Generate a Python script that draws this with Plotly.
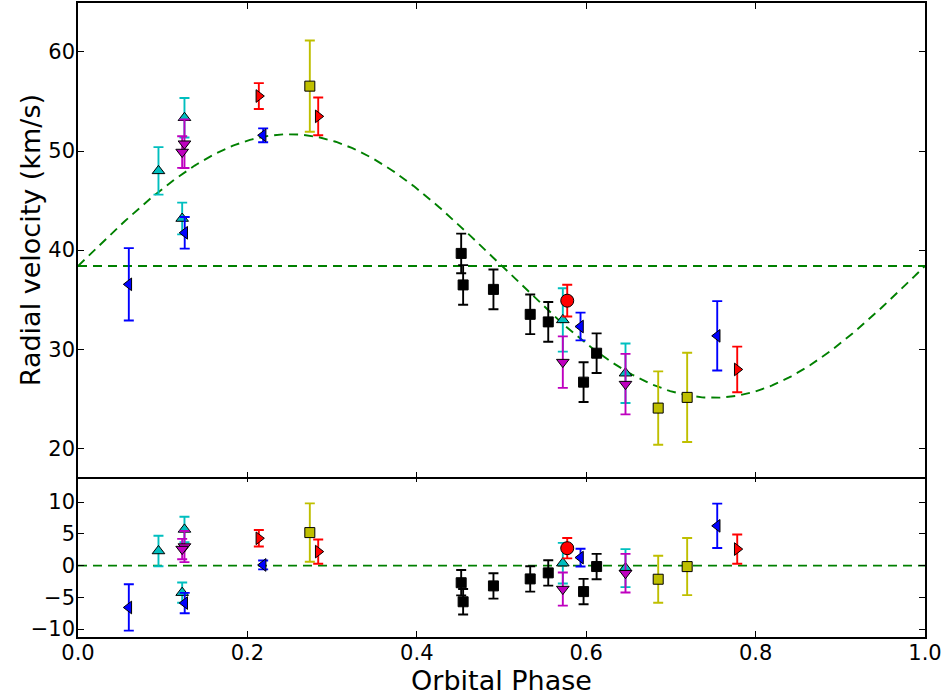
import numpy as np
import plotly.graph_objects as go

# ---- Data ----
# Orbital model parameters (systemic velocity and semi-amplitude)
GAMMA = 38.4
K_AMP = 13.3

# Black squares
blk_phase = [0.4524, 0.4547, 0.4905, 0.5339, 0.5552, 0.5969, 0.6123]
blk_rv    = [39.67, 36.49, 36.04, 33.52, 32.76, 26.68, 29.60]
blk_err   = [2.0, 2.0, 2.0, 2.0, 2.0, 2.0, 2.0]
blk_res   = [-2.7, -5.7, -3.2, -2.1, -1.15, -4.1, -0.15]

# Yellow squares
yel_phase = [0.2737, 0.6850, 0.7192]
yel_rv    = [56.55, 24.06, 25.14]
yel_err   = [4.6, 3.7, 4.5]
yel_res   = [5.2, -2.15, -0.16]

# Cyan up-triangles
cyn_phase = [0.0950, 0.1257, 0.1230, 0.5724, 0.6464]
cyn_rv    = [48.0, 53.36, 43.19, 32.96, 27.58]
cyn_err   = [2.4, 2.0, 1.6, 3.2, 3.0]
cyn_res   = [2.3, 5.7, -4.26, 0.38, -0.4]

# Magenta down-triangles
mag_phase = [0.1257, 0.1230, 0.5724, 0.6464]
mag_rv    = [50.74, 49.90, 28.70, 26.48]
mag_err   = [2.45, 1.6, 2.6, 3.05]
mag_res   = [3.0, 2.6, -3.7, -1.2]

# Blue left-triangles
blu_phase = [0.0600, 0.1260, 0.2186, 0.5933, 0.7547]
blu_rv    = [36.55, 41.75, 51.59, 32.29, 31.35]
blu_err   = [3.65, 1.6, 0.7, 1.4, 3.5]
blu_res   = [-6.6, -5.9, 0.1, 1.26, 6.26]

# Red right-triangles
red_phase = [0.2135, 0.2836, 0.7783]
red_rv    = [55.55, 53.50, 27.96]
red_err   = [1.3, 1.9, 2.3]
red_res   = [4.3, 2.2, 2.6]

# Red circle
cir_phase = [0.5776]
cir_rv    = [34.9]
cir_err   = [1.6]
cir_res   = [2.74]

# ---- Figure ----
FONT = "DejaVu Sans"
fig = go.Figure()

model_phase = np.linspace(0.0, 1.0, 400)
model_rv = GAMMA + K_AMP * np.sin(2 * np.pi * model_phase)

GREEN = "#008000"
DASH = "9px,6px"
LW = 1.9

# Model curve and systemic velocity (top)
fig.add_trace(go.Scatter(x=model_phase, y=model_rv, mode="lines",
                         line=dict(color=GREEN, width=LW, dash=DASH),
                         xaxis="x2", yaxis="y2", showlegend=False, hoverinfo="skip"))
fig.add_trace(go.Scatter(x=[0.0, 1.0], y=[GAMMA, GAMMA], mode="lines",
                         line=dict(color=GREEN, width=LW, dash=DASH),
                         xaxis="x2", yaxis="y2", showlegend=False, hoverinfo="skip"))
# Zero line (residuals)
fig.add_trace(go.Scatter(x=[0.0, 1.0], y=[0, 0], mode="lines",
                         line=dict(color=GREEN, width=LW, dash=DASH),
                         xaxis="x", yaxis="y", showlegend=False, hoverinfo="skip"))

series = [
    (blk_phase, blk_rv, blk_err, blk_res, "#000000", "square", 10),
    (yel_phase, yel_rv, yel_err, yel_res, "#bfbf00", "square", 10),
    (cyn_phase, cyn_rv, cyn_err, cyn_res, "#00bfbf", "triangle-up", 11),
    (mag_phase, mag_rv, mag_err, mag_res, "#bf00bf", "triangle-down", 11),
    (blu_phase, blu_rv, blu_err, blu_res, "#0000ff", "triangle-left", 11),
    (red_phase, red_rv, red_err, red_res, "#ff0000", "triangle-right", 11),
    (cir_phase, cir_rv, cir_err, cir_res, "#ff0000", "circle", 13),
]

for ph, rv, er, res, col, sym, sz in series:
    mk = dict(color=col, symbol=sym, size=sz, line=dict(color="#000000", width=1))
    eb = dict(type="data", array=er, visible=True, color=col, thickness=1.9, width=5)
    fig.add_trace(go.Scatter(x=ph, y=rv, mode="markers", marker=mk, error_y=eb,
                             xaxis="x2", yaxis="y2", showlegend=False))
    fig.add_trace(go.Scatter(x=ph, y=res, mode="markers", marker=mk, error_y=eb,
                             xaxis="x", yaxis="y", showlegend=False))

AXLW = 1.5
PH = 636.0
split = 161 / PH
half = (AXLW / 2) / PH
axis_common = dict(showgrid=False, zeroline=False, showline=True, linecolor="black",
                   linewidth=AXLW, mirror="ticks", ticks="inside", ticklen=6,
                   tickwidth=1, tickcolor="black",
                   tickfont=dict(family=FONT, size=21, color="black"))

fig.update_layout(
    width=945, height=700,
    margin=dict(l=78, r=20, t=1, b=63),
    paper_bgcolor="white", plot_bgcolor="white",
    xaxis=dict(domain=[0, 1], range=[0, 1], tickvals=[0.0, 0.2, 0.4, 0.6, 0.8, 1.0],
               ticktext=["0.0", "0.2", "0.4", "0.6", "0.8", "1.0"], anchor="y",
               ticklabelstandoff=-4,
               title=dict(text="Orbital Phase", font=dict(family=FONT, size=27, color="black"),
                          standoff=0),
               **axis_common),
    yaxis=dict(domain=[0, split + half], range=[-11.25, 14.15], tickvals=[-10, -5, 0, 5, 10],
               anchor="x", ticklabelstandoff=-3, **axis_common),
    xaxis2=dict(domain=[0, 1], range=[0, 1], matches="x", anchor="y2",
                tickvals=[0.0, 0.2, 0.4, 0.6, 0.8, 1.0], showticklabels=False,
                **axis_common),
    yaxis2=dict(domain=[split - half, 1], range=[17.08, 64.94], tickvals=[20, 30, 40, 50, 60],
                anchor="x2", ticklabelstandoff=-3,
                title=dict(text="Radial velocity (km/s)",
                           font=dict(family=FONT, size=27, color="black"), standoff=0),
                **axis_common),
    font=dict(family=FONT, color="black"),
)

fig.write_html("out.html")
